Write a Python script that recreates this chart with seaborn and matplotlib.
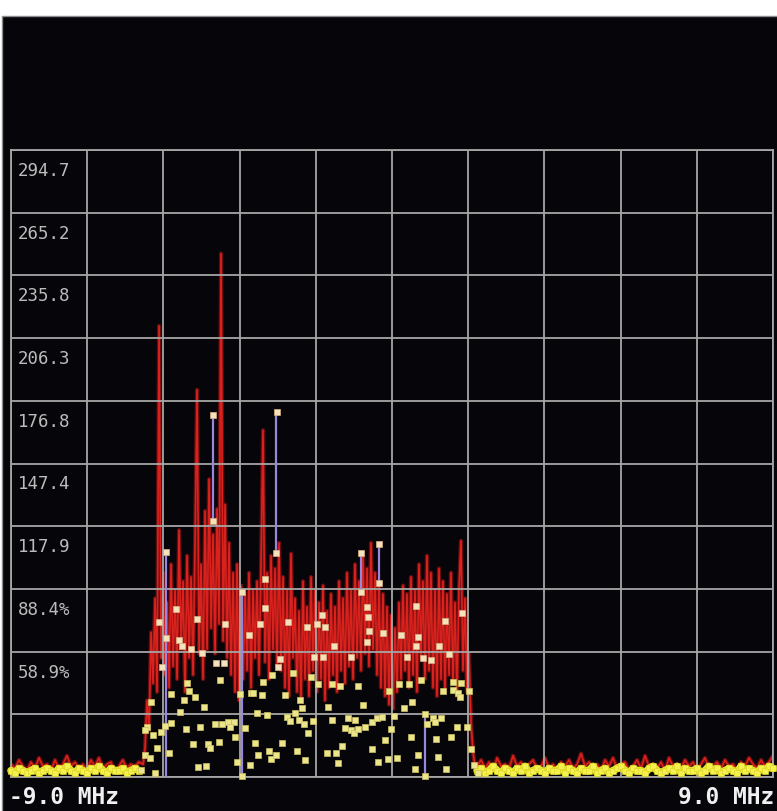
import numpy as np
import pandas as pd
import matplotlib
matplotlib.use("Agg")
import matplotlib.pyplot as plt
import seaborn as sns
from matplotlib.patches import Rectangle
from matplotlib.transforms import blended_transform_factory

# ---- sweep settings ----
span_start, span_stop = -9.0, 9.0          # MHz
full_scale = 294.7
level_labels = ["294.7", "265.2", "235.8", "206.3", "176.8",
                "147.4", "117.9", "88.4%", "58.9%"]
level_values = [294.7, 265.2, 235.8, 206.3, 176.8, 147.4, 117.9, 88.4, 58.9]
span_labels = ["-9.0 MHz", "9.0 MHz"]

# ---- live trace over the occupied channel (bins from -5.88 to 1.96 MHz) ----
band_lo, band_hi = -5.88, 1.96
band_trace = [
    6, 14, 36, 22, 68, 44, 84, 40, 212, 56,
    96, 48, 82, 42, 100, 52, 88, 46, 116, 60,
    92, 40, 104, 56, 94, 48, 110, 182, 58, 100,
    46, 125, 60, 140, 70, 114, 58, 126, 72, 246,
    64, 128, 56, 110, 48, 96, 40, 100, 36, 90,
    46, 86, 50, 96, 42, 88, 56, 92, 48, 100,
    163, 54, 96, 46, 104, 60, 98, 52, 110, 50,
    94, 42, 88, 38, 105, 56, 84, 40, 78, 36,
    92, 46, 80, 38, 94, 50, 88, 40, 82, 46,
    90, 36, 78, 42, 86, 48, 80, 40, 92, 50,
    84, 44, 96, 52, 88, 46, 100, 56, 92, 50,
    104, 58, 98, 52, 110, 60, 96, 48, 90, 42,
    86, 38, 80, 34, 76, 32, 70, 40, 82, 46,
    90, 50, 86, 42, 94, 48, 88, 40, 100, 56,
    92, 46, 104, 50, 96, 42, 88, 38, 98, 46,
    92, 40, 86, 48, 96, 44, 82, 38, 88, 111,
    50, 84, 40, 58, 26, 12, 5,
]

# ---- noise floor either side of the channel ----
left_floor_lo, left_floor_hi = -9.0, -5.98
left_floor_trace = [6, 4, 8, 5, 3, 7, 4, 9, 5, 6, 3, 8, 4, 6, 10, 5, 7,
                    4, 6, 3, 8, 5, 9, 4, 6, 7, 3, 5, 8, 4, 6, 5, 7]
left_floor_hold = [3, 2, 4, 3, 2, 3, 4, 2, 3, 4, 3, 2, 4, 3, 5, 3, 2,
                   4, 3, 2, 4, 3, 5, 3, 2, 4, 3, 3, 4, 2, 3, 4, 3]

right_floor_lo, right_floor_hi = 2.01, 9.0
right_floor_trace = [5, 8, 4, 7, 3, 9, 5, 6, 4, 10, 5, 7, 3, 6, 8, 4, 5, 9, 4, 6,
                     3, 7, 5, 8, 4, 6, 11, 5, 7, 4, 6, 3, 8, 5, 9, 4, 6, 7, 3, 5,
                     8, 4, 10, 5, 6, 4, 7, 3, 9, 5, 6, 4, 8, 5, 7, 3, 6, 9, 4, 5,
                     7, 4, 8, 5, 6, 3, 7, 5, 9, 6, 4, 8, 5, 7, 10]
right_floor_hold = [3, 4, 2, 3, 5, 3, 2, 4, 3, 2, 4, 3, 5, 2, 3, 4, 3, 2, 4, 3,
                    3, 5, 2, 4, 3, 2, 4, 3, 3, 5, 2, 3, 4, 2, 3, 4, 5, 3, 2, 4,
                    3, 3, 2, 4, 5, 3, 2, 3, 4, 3, 5, 2, 4, 3, 3, 4, 2, 3, 5, 3,
                    4, 2, 3, 4, 3, 2, 5, 3, 4, 3, 2, 4, 3, 5, 4]

# ---- held peak samples inside the channel ----
peak_freq = [
    -5.339, -4.228, -4.228, -3.543, -5.102, -5.504, -4.606, -3.945, -3.378, -5.339,
    -5.031, -4.961, -4.748, -4.488, -5.433, -4.157, -3.969, -4.063, -4.843, -4.795,
    -5.221, -4.654, -5.693, -4.914, -3.591, -3.331, -4.441, -5.008, -5.788, -5.835,
    -5.646, -5.457, -5.362, -5.221, -4.866, -4.536, -4.181, -4.016, -3.874, -3.732,
    -3.827, -3.473, -3.709, -5.551, -5.268, -4.701, -4.347, -4.299, -4.087, -5.835,
    -5.717, -3.662, -4.583, -4.394, -5.929, -5.599, -3.543, -3.354, -2.717,
    -2.740, -3.000, -3.000, -3.118, -2.457, -2.008, -1.772, -1.654, -1.583, -1.370,
    -1.843, -1.630, -0.969, -2.646, -2.693, -2.835, -2.339, -1.914, -3.047, -1.748,
    -1.417, -1.229, -0.803, -3.284, -3.071, -2.528, -2.173, -2.126, -1.512, -3.189,
    -2.953, -2.480, -2.410, -2.292, -2.197, -2.079, -1.866, -1.984, -1.417, -1.040,
    -1.110, -0.969, -0.898, -3.236, -2.599, -1.181, -3.166, -2.906, -2.858, -2.740,
    -2.244, -1.536, -1.323, -2.055, -1.276,
    -0.733, -0.733, -0.307, -0.307, -0.591, -0.567, -0.543, -0.591, -0.213, 0.567,
    1.252, 1.653, 0.212, 0.614, 0.567, 1.110, 1.346, 0.354, 0.732, 0.921,
    0.165, 0.401, 0.685, -0.071, 1.441, 1.630, 1.441, 1.559, 1.606, 1.205,
    1.819, -0.685, 0.472, 0.283, -0.874, -0.803, -0.638, -0.473, -0.354, -0.236,
    0.047, -0.024, 0.779, 0.827, 0.968, 1.016, 1.157, 1.535, 1.771, 0.449,
    -0.166, -0.473, 1.039, 1.394, 1.866, -0.331, -0.095, 0.118, 0.614, 1.086,
    0.543, 1.275, 0.779, 1.937, 2.031,
]
peak_level = [
    105.8, 120.3, 170.1, 87.0, 79.0, 72.9, 74.3, 71.9, 66.7, 65.3,
    64.4, 61.6, 60.2, 58.3, 51.7, 53.6, 53.6, 45.6, 44.2, 40.4,
    39.0, 37.6, 35.3, 36.2, 39.0, 39.5, 32.9, 30.6, 23.5, 22.1,
    19.7, 21.2, 24.0, 25.4, 22.6, 23.5, 24.9, 24.9, 25.9, 25.9,
    23.5, 23.0, 18.8, 13.6, 11.3, 15.5, 15.5, 13.6, 16.5, 10.3,
    8.9, 7.1, 4.7, 5.2, 3.3, 1.9, 0.5, 5.6, 171.6,
    105.3, 93.1, 79.4, 71.9, 72.9, 70.5, 71.9, 76.1, 70.5, 61.6,
    56.4, 56.4, 56.4, 55.5, 51.7, 47.9, 48.9, 47.0, 44.7, 43.7,
    43.7, 42.8, 42.8, 39.5, 38.5, 38.5, 36.2, 32.4, 32.9, 30.1,
    29.1, 28.2, 26.3, 30.1, 26.8, 24.9, 26.3, 20.7, 26.8, 27.7,
    23.0, 22.1, 20.7, 16.0, 16.0, 14.6, 10.3, 12.2, 8.5, 10.3,
    12.2, 11.3, 11.3, 8.0, 6.6,
    105.3, 87.0, 109.5, 91.2, 79.9, 75.2, 68.6, 63.5, 67.7, 80.4,
    73.3, 77.1, 66.7, 65.8, 61.6, 61.6, 57.8, 56.4, 55.9, 55.0,
    43.7, 43.7, 45.6, 40.4, 44.7, 44.2, 40.9, 39.5, 37.6, 40.4,
    40.4, 33.8, 35.3, 32.4, 26.8, 22.6, 23.5, 25.9, 27.7, 28.2,
    28.7, 22.6, 29.6, 24.9, 27.7, 25.9, 27.7, 23.5, 23.5, 18.8,
    17.4, 13.2, 17.9, 18.8, 13.2, 7.1, 8.5, 8.9, 10.3, 9.4,
    3.8, 3.8, 0.5, 5.6, 1.9,
]

# ---- max-hold bars ----
stem_freq = [-5.339, -4.228, -3.543, -2.73, -0.733, -0.307, 0.779]
stem_low = [0.0, 120.3, 0.5, 105.3, 87.0, 91.2, 0.5]
stem_high = [105.8, 170.1, 87.0, 171.6, 105.3, 109.5, 29.6]

# ---- assemble tables ----
band_freq = np.linspace(band_lo, band_hi, len(band_trace))
left_freq = np.linspace(left_floor_lo, left_floor_hi, len(left_floor_trace))
right_freq = np.linspace(right_floor_lo, right_floor_hi, len(right_floor_trace))

trace = pd.DataFrame({
    "freq": np.concatenate([left_freq, band_freq, right_freq]),
    "level": np.concatenate([left_floor_trace, band_trace, right_floor_trace]),
})
floor_left = pd.DataFrame({"freq": left_freq, "level": left_floor_hold})
floor_right = pd.DataFrame({"freq": right_freq, "level": right_floor_hold})
peaks = pd.DataFrame({"freq": peak_freq, "level": peak_level})

# ---- styling ----
BG = "#05050a"
GRID = "#a6a6a6"
sns.set_theme(style="dark", rc={"axes.facecolor": BG, "figure.facecolor": "white"})
plt.rcParams["font.family"] = ["DejaVu Sans Mono", "DejaVu Sans"]

W, H = 777, 811
fig = plt.figure(figsize=(W / 100, H / 100), dpi=100)
fig.patch.set_facecolor("white")

# instrument screen panel
fig.add_artist(Rectangle((2 / W, -0.01), 1.0, (H - 16) / H + 0.01,
                         transform=fig.transFigure, facecolor=BG,
                         edgecolor="#8c8c8c", linewidth=1.0, zorder=0))

ax = fig.add_axes([11 / W, 34 / H, 762 / W, 627 / H])
ax.set_facecolor(BG)
ax.set_xlim(span_start, span_stop)
ax.set_ylim(0, full_scale)
ax.set_xticks(np.linspace(span_start, span_stop, 11))
ax.set_yticks(np.linspace(0, full_scale, 11))
ax.tick_params(length=0, labelbottom=False, labelleft=False)
ax.grid(True, color=GRID, linewidth=1.3)
ax.set_axisbelow(False)
for s in ax.spines.values():
    s.set_color(GRID)
    s.set_linewidth(1.3)
    s.set_visible(True)

# live trace: dark glow underneath, bright trace on top
sns.lineplot(data=trace, x="freq", y="level", sort=False, estimator=None,
             color="#8c0f12", linewidth=3.0, alpha=0.75, ax=ax, zorder=1.2)
sns.lineplot(data=trace, x="freq", y="level", sort=False, estimator=None,
             color="#e0241e", linewidth=1.2, alpha=0.95, ax=ax, zorder=1.5)

# noise-floor hold (dense yellow band)
for fl in (floor_left, floor_right):
    sns.lineplot(data=fl, x="freq", y="level", sort=False, estimator=None,
                 color="#e8e62a", linewidth=5.5, ax=ax, zorder=3, clip_on=False)
    sns.scatterplot(data=fl, x="freq", y="level", marker="s", s=16,
                    color="#f4f050", edgecolor="#d8d020", linewidth=0.4,
                    ax=ax, zorder=3.2, clip_on=False)

# max-hold bars
ax.vlines(stem_freq, stem_low, stem_high, colors="#9a86dc", linewidth=1.6, zorder=3.4)

# held peaks: paler over the trace, yellower near the floor
upper = peaks[peaks["level"] >= 50]
lower = peaks[peaks["level"] < 50]
sns.scatterplot(data=lower, x="freq", y="level", marker="s", s=17,
                color="#ece58c", edgecolor="#c8c060", linewidth=0.5,
                ax=ax, zorder=4, clip_on=False)
sns.scatterplot(data=upper, x="freq", y="level", marker="s", s=17,
                color="#f4e2bc", edgecolor="#d8b080", linewidth=0.5,
                ax=ax, zorder=4, clip_on=False)
ax.set_xlabel("")
ax.set_ylabel("")

# level labels sit inside the top-left corner of each grid row
tr = blended_transform_factory(ax.transAxes, ax.transData)
for lab, val in zip(level_labels, level_values):
    ax.annotate(lab, xy=(0, val), xycoords=tr, xytext=(7, -21),
                textcoords="offset pixels", ha="left", va="center",
                fontsize=12.5, color="#bcbcbc", family="DejaVu Sans Mono",
                zorder=6)

# span labels under the graticule
fig.text(9 / W, (H - 797) / H, span_labels[0], ha="left", va="center",
         fontsize=16.5, fontweight="bold", color="#f0f0f0",
         family="DejaVu Sans Mono")
fig.text(774 / W, (H - 797) / H, span_labels[1], ha="right", va="center",
         fontsize=16.5, fontweight="bold", color="#f0f0f0",
         family="DejaVu Sans Mono")

fig.savefig("out.png", dpi=100, facecolor="white")
